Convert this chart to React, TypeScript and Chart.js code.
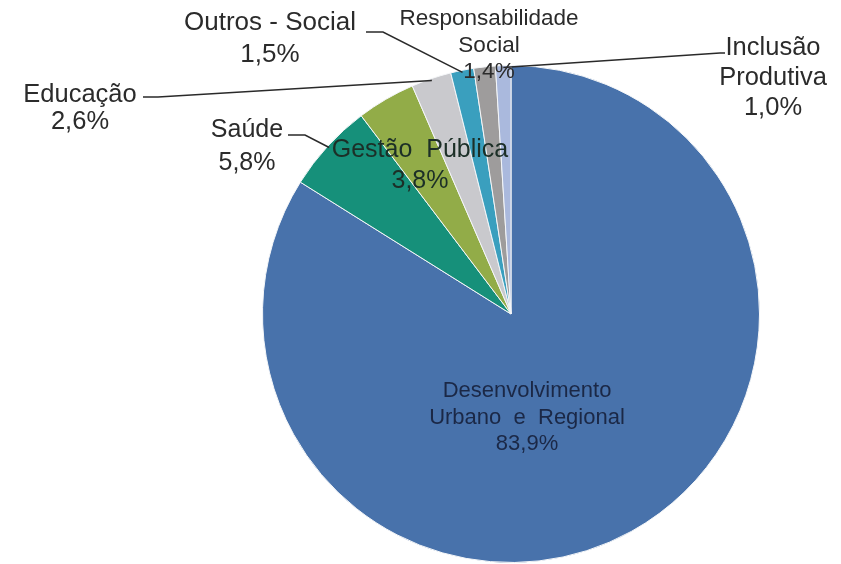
import React, { useEffect, useRef } from "react";
import { Chart, registerables } from "chart.js";

Chart.register(...registerables);

const categories = [
  "Desenvolvimento Urbano e Regional",
  "Saúde",
  "Gestão Pública",
  "Educação",
  "Outros - Social",
  "Responsabilidade Social",
  "Inclusão Produtiva",
];
const values = [83.9, 5.8, 3.8, 2.6, 1.5, 1.4, 1.0];
const labelLines = [
  ["Desenvolvimento", "Urbano  e  Regional"],
  ["Saúde"],
  ["Gestão  Pública"],
  ["Educação"],
  ["Outros - Social"],
  ["Responsabilidade", "Social"],
  ["Inclusão", "Produtiva"],
];
const colors = ["#4872AB", "#16907A", "#92AC48", "#C9C9CD", "#3A9FBE", "#9E9C9C", "#AAB9DD"];

const FONT = '"Liberation Sans", Arial, sans-serif';

// label placement: x center, first baseline y, line height, font size, color, leader polyline (arc point appended)
type Layout = { x: number; y: number; lh: number; size: number; color: string; leader?: number[][]; leaderFromArc?: boolean };
const layouts: Layout[] = [
  { x: 527, y: 397, lh: 26.5, size: 22, color: "#1b2846" },
  { x: 247, y: 137, lh: 33, size: 25, color: "#2b2b2b", leader: [[288, 135], [305, 135]] },
  { x: 420, y: 157, lh: 31, size: 25, color: "#1c2f27" },
  { x: 80, y: 102, lh: 27, size: 25.5, color: "#2b2b2b", leader: [[143, 97], [158, 97]] },
  { x: 270, y: 30, lh: 32, size: 26, color: "#2b2b2b", leader: [[366, 32], [383, 32]] },
  { x: 489, y: 25, lh: 26.5, size: 22.5, color: "#2b2b2b" },
  { x: 773, y: 55, lh: 30, size: 25.5, color: "#2b2b2b", leader: [[725, 53], [720, 53]] },
];

const fmt = (v: number) => v.toFixed(1).replace(".", ",") + "%";

const labelPlugin = {
  id: "pieLabels",
  afterDatasetsDraw(chart: any) {
    const ctx = chart.ctx;
    const meta = chart.getDatasetMeta(0);
    ctx.save();
    meta.data.forEach((arc: any, i: number) => {
      const L = layouts[i];
      if (L.leader) {
        const mid = (arc.startAngle + arc.endAngle) / 2;
        const r = arc.outerRadius - 2;
        const ax = arc.x + Math.cos(mid) * r;
        const ay = arc.y + Math.sin(mid) * r;
        ctx.beginPath();
        ctx.strokeStyle = "#2a2a2a";
        ctx.lineWidth = 1.5;
        ctx.moveTo(L.leader[0][0], L.leader[0][1]);
        for (let k = 1; k < L.leader.length; k++) ctx.lineTo(L.leader[k][0], L.leader[k][1]);
        ctx.lineTo(ax, ay);
        ctx.stroke();
      }
      const lines = [...labelLines[i], fmt(values[i])];
      ctx.font = `${L.size}px ${FONT}`;
      ctx.fillStyle = L.color;
      ctx.textAlign = "center";
      ctx.textBaseline = "alphabetic";
      lines.forEach((t, k) => ctx.fillText(t, L.x, L.y + k * L.lh));
    });
    ctx.restore();
  },
};

export default function App() {
  const ref = useRef<HTMLCanvasElement | null>(null);
  useEffect(() => {
    if (!ref.current) return;
    const chart = new Chart(ref.current, {
      type: "pie",
      data: {
        labels: categories,
        datasets: [
          {
            data: values,
            backgroundColor: colors,
            borderColor: "#f4f6f8",
            borderWidth: 1,
          },
        ],
      },
      options: {
        responsive: false,
        animation: false,
        layout: { padding: { left: 262, right: 81, top: 64, bottom: 0 } },
        plugins: { legend: { display: false }, tooltip: { enabled: false } },
      },
      plugins: [labelPlugin],
    });
    return () => chart.destroy();
  }, []);
  return (
    <div style={{ position: "absolute", left: 0, top: 0, width: 841, height: 564, background: "#fff" }}>
      <canvas ref={ref} width={841} height={564} style={{ display: "block" }} />
    </div>
  );
}
